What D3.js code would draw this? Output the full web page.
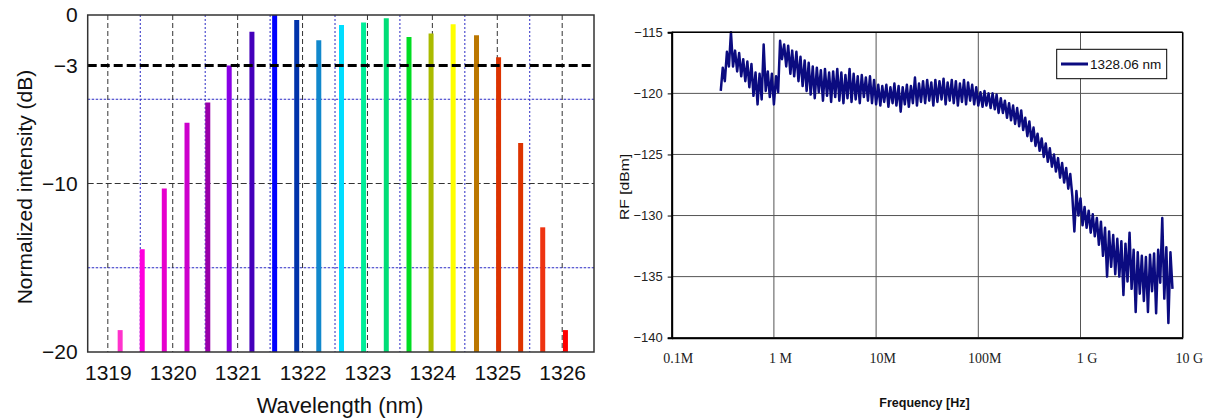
<!DOCTYPE html>
<html>
<head>
<meta charset="utf-8">
<script src="https://cdn.jsdelivr.net/npm/d3@7"></script>
<style>
body { margin: 0; background: #fff; }
svg { display: block; }
</style>
</head>
<body>
<svg width="1205" height="418"></svg>
<script>
// ---- left chart data: laser peaks ----
const wavelengths = [1319.19, 1319.53, 1319.87, 1320.22, 1320.54, 1320.87, 1321.22, 1321.57, 1321.91, 1322.25, 1322.60,
    1322.94, 1323.29, 1323.64, 1323.98, 1324.32, 1324.68, 1325.02, 1325.36, 1325.70, 1326.05];
const peaks = [-18.7, -13.9, -10.3, -6.4, -5.2, -3.0, -1.0, 0, -0.3, -1.5, -0.6,
    -0.45, -0.2, -1.3, -1.1, -0.55, -1.2, -2.5, -7.6, -12.6, -18.7];
const peakColors = ["#ff33cc", "#ff00dd", "#e600cc", "#cc00cc", "#9900aa", "#8800e6", "#4400bb", "#0000ff", "#0033aa", "#1188cc", "#00ddff",
    "#00ee99", "#00dd77", "#00dd22", "#aabb00", "#ffff00", "#bb7700", "#dd3300", "#dd3300", "#ee3311", "#ff0000"];
const nmTicks = [1319, 1320, 1321, 1322, 1323, 1324, 1325, 1326];
const halfTicks = [1319.5, 1320.5, 1321.5, 1322.5, 1323.5, 1324.5, 1325.5];
const dbTicks = [0, -3, -10, -20];
const blueRows = [-5, -15];

// ---- right chart data: RF response ----
const freqMHz = [0.302, 0.316, 0.331, 0.347, 0.363, 0.380, 0.398, 0.417, 0.437, 0.457, 0.479, 0.501, 0.525, 0.550, 0.575, 0.603,
    0.631, 0.661, 0.692, 0.724, 0.759, 0.794, 0.832, 0.871, 0.912, 0.955,
    1.00, 1.05, 1.10, 1.15, 1.20, 1.26, 1.32, 1.38, 1.45, 1.51, 1.58, 1.66, 1.74, 1.82, 1.91, 2.00, 2.09, 2.19, 2.29, 2.40,
    2.51, 2.63, 2.75, 2.88, 3.02, 3.16, 3.31, 3.47, 3.63, 3.80, 3.98, 4.17, 4.37, 4.57, 4.79, 5.01, 5.25, 5.50, 5.75, 6.03,
    6.31, 6.61, 6.92, 7.24, 7.59, 7.94, 8.32, 8.71, 9.12, 9.55,
    10.0, 10.5, 11.0, 11.5, 12.0, 12.6, 13.2, 13.8, 14.5, 15.1, 15.8, 16.6, 17.4, 18.2, 19.1, 20.0, 20.9, 21.9, 22.9, 24.0,
    25.1, 26.3, 27.5, 28.8, 30.2, 31.6, 33.1, 34.7, 36.3, 38.0, 39.8, 41.7, 43.7, 45.7, 47.9, 50.1, 52.5, 55.0, 57.5, 60.3,
    63.1, 66.1, 69.2, 72.4, 75.9, 79.4, 83.2, 87.1, 91.2, 95.5,
    100, 105, 110, 115, 120, 126, 132, 138, 145, 151, 158, 166, 174, 182, 191, 200, 209, 219, 229, 240,
    251, 263, 275, 288, 302, 316, 331, 347, 363, 380, 398, 417, 437, 457, 479, 501, 525, 550, 575, 603,
    631, 661, 692, 724, 759, 794, 832, 871, 912, 955,
    1000, 1047, 1096, 1148, 1202, 1259, 1318, 1380, 1445, 1514, 1585, 1660, 1738, 1820, 1905, 1995, 2089, 2188, 2291, 2399,
    2512, 2630, 2754, 2884, 3020, 3162, 3311, 3467, 3631, 3802, 3981, 4169, 4365, 4571, 4786, 5012, 5248, 5495, 5754, 6026,
    6310, 6607, 6918, 7244, 7586, 7943];
const rfDbm = [-119.8, -117.9, -119.0, -116.6, -117.8, -115.0, -117.8, -116.5, -118.2, -116.7,
    -118.6, -117.2, -119.0, -117.4, -119.5, -117.6, -120.2, -118.3, -120.9, -118.4,
    -120.5, -116.0, -119.8, -118.2, -120.3, -118.4, -120.9, -118.6, -119.9, -115.7,
    -117.2, -116.0, -117.8, -116.1, -118.4, -116.5, -118.6, -116.6, -119.0, -117.0,
    -119.4, -117.3, -119.8, -117.5, -120.1, -117.8, -120.4, -117.9, -119.9, -118.1,
    -120.6, -118.0, -120.2, -118.3, -120.7, -118.2, -120.3, -118.0, -120.6, -118.3,
    -120.8, -118.5, -120.4, -118.0, -120.7, -118.4, -120.5, -118.6, -120.8, -118.5,
    -120.3, -118.7, -120.6, -118.6, -120.8, -118.9, -120.9, -119.3, -121.0, -119.4,
    -120.7, -119.3, -121.1, -119.5, -120.8, -119.2, -121.0, -119.4, -121.5, -119.5,
    -120.9, -119.3, -121.1, -119.4, -120.8, -118.7, -121.0, -119.2, -120.7, -119.0,
    -120.8, -118.9, -120.6, -119.1, -121.0, -118.9, -120.7, -119.0, -120.5, -118.8,
    -120.9, -119.1, -120.6, -118.9, -120.8, -119.0, -121.0, -119.2, -120.7, -118.9,
    -120.9, -119.1, -120.6, -119.3, -120.9, -119.5, -121.0, -119.9, -121.1, -119.8,
    -121.0, -120.0, -121.2, -120.0, -121.3, -120.1, -121.6, -120.4, -121.6, -120.6,
    -122.0, -120.8, -122.2, -121.0, -122.5, -121.2, -122.7, -121.4, -123.0, -122.0,
    -123.5, -122.3, -123.9, -122.8, -124.3, -123.3, -124.7, -123.7, -125.2, -124.1,
    -125.6, -124.5, -126.0, -125.0, -126.4, -125.3, -126.9, -125.7, -127.3, -126.1,
    -127.8, -126.6, -128.4, -131.3, -128.0, -130.0, -128.6, -130.8, -129.3, -131.0,
    -129.6, -131.4, -129.9, -131.7, -130.2, -132.4, -130.5, -133.3, -131.0, -135.0,
    -131.3, -134.2, -131.6, -134.8, -131.9, -135.0, -132.1, -136.5, -132.3, -135.4,
    -131.4, -136.0, -132.8, -137.9, -133.0, -136.4, -133.3, -137.0, -133.4, -137.9,
    -133.2, -136.2, -133.1, -138.0, -132.8, -135.5, -130.2, -136.8, -132.6, -138.8,
    -133.0, -136.0];
const freqTicks = [1e5, 1e6, 1e7, 1e8, 1e9, 1e10];
const freqLabels = ["0.1M", "1 M", "10M", "100M", "1 G", "10 G"];
const rfTicks = [-115, -120, -125, -130, -135, -140];

var svg = d3.select("svg");

// ================= left chart =================
var x1 = d3.scaleLinear().domain([1318.69, 1326.49]).range([87.7, 594]);
var y1 = d3.scaleLinear().domain([-20, 0]).range([352, 15]);
var g1 = svg.append("g");
var L = x1.range()[0], R = x1.range()[1], T = y1(0), B = y1(-20);

// blue dotted grid
g1.selectAll(".hblue").data(blueRows).enter().append("line")
    .attr("x1", L).attr("x2", R)
    .attr("y1", d => y1(d)).attr("y2", d => y1(d))
    .attr("stroke", "#2a2ac4").attr("stroke-width", 1).attr("stroke-dasharray", "2.5,1.5");
g1.selectAll(".vblue").data(halfTicks).enter().append("line")
    .attr("x1", d => x1(d)).attr("x2", d => x1(d))
    .attr("y1", T).attr("y2", B)
    .attr("stroke", "#2a2ac4").attr("stroke-width", 1).attr("stroke-dasharray", "2,2");

// black dashed grid
g1.selectAll(".vblack").data(nmTicks).enter().append("line")
    .attr("x1", d => x1(d)).attr("x2", d => x1(d))
    .attr("y1", T).attr("y2", B)
    .attr("stroke", "#333").attr("stroke-width", 1).attr("stroke-dasharray", "5,3");
g1.append("line")
    .attr("x1", L).attr("x2", R).attr("y1", y1(-10)).attr("y2", y1(-10))
    .attr("stroke", "#333").attr("stroke-width", 1).attr("stroke-dasharray", "6,3");

// peaks
g1.selectAll(".peak").data(wavelengths).enter().append("line")
    .attr("x1", d => x1(d)).attr("x2", d => x1(d))
    .attr("y1", B).attr("y2", (d, i) => y1(peaks[i]))
    .attr("stroke", (d, i) => peakColors[i])
    .attr("stroke-width", 5);

// -3 dB line
g1.append("line")
    .attr("x1", L).attr("x2", R).attr("y1", y1(-3)).attr("y2", y1(-3))
    .attr("stroke", "#000").attr("stroke-width", 3).attr("stroke-dasharray", "9,4");

// frame
g1.append("rect")
    .attr("x", L).attr("y", T).attr("width", R - L).attr("height", B - T)
    .attr("fill", "none").attr("stroke", "#333").attr("stroke-width", 1.5);

// axes
var ax1 = g1.append("g").attr("transform", "translate(0," + B + ")")
    .call(d3.axisBottom(x1).tickValues(nmTicks).tickSize(0).tickPadding(13).tickFormat(d3.format("d")));
var ay1 = g1.append("g").attr("transform", "translate(" + L + ",0)")
    .call(d3.axisLeft(y1).tickValues(dbTicks).tickSize(0).tickPadding(10).tickFormat(d3.format("d")));
[ax1, ay1].forEach(a => {
    a.select(".domain").remove();
    a.selectAll("text").attr("fill", "#111")
        .style("font-family", "'Liberation Sans', Arial, sans-serif").style("font-size", "21px");
});

g1.append("text")
    .attr("x", 340).attr("y", 413).attr("text-anchor", "middle")
    .style("font-family", "'Liberation Sans', Arial, sans-serif").style("font-size", "22px").attr("fill", "#111")
    .text("Wavelength (nm)");
g1.append("text")
    .attr("transform", "translate(32,187) rotate(-90)").attr("text-anchor", "middle")
    .style("font-family", "'Liberation Sans', Arial, sans-serif").style("font-size", "21px").attr("fill", "#111")
    .text("Normalized intensity (dB)");

// ================= right chart =================
var x2 = d3.scaleLog().domain([1e5, 1e10]).range([671.7, 1182.7]);
var y2 = d3.scaleLinear().domain([-140, -115]).range([337.7, 32.3]);
var g2 = svg.append("g");
var L2 = x2.range()[0], R2 = x2.range()[1], T2 = y2(-115), B2 = y2(-140);

// grid
g2.selectAll(".vg").data(freqTicks).enter().append("line")
    .attr("x1", d => x2(d)).attr("x2", d => x2(d)).attr("y1", T2).attr("y2", B2)
    .attr("stroke", "#555").attr("stroke-width", 1);
g2.selectAll(".hg").data(rfTicks).enter().append("line")
    .attr("x1", L2).attr("x2", R2).attr("y1", d => y2(d)).attr("y2", d => y2(d))
    .attr("stroke", "#555").attr("stroke-width", 1);

// trace
var line = d3.line()
    .x((d, i) => x2(freqMHz[i] * 1e6))
    .y(d => y2(d));
g2.append("path")
    .datum(rfDbm)
    .attr("d", line)
    .attr("fill", "none")
    .attr("stroke", "#0b0b80")
    .attr("stroke-width", 2.5)
    .attr("stroke-linejoin", "round");

// frame
g2.append("line").attr("x1", L2).attr("x2", R2).attr("y1", T2).attr("y2", T2).attr("stroke", "#000").attr("stroke-width", 1.5);
g2.append("line").attr("x1", R2).attr("x2", R2).attr("y1", T2).attr("y2", B2).attr("stroke", "#000").attr("stroke-width", 1.5);

var ay2 = g2.append("g").attr("transform", "translate(" + L2 + ",0)")
    .call(d3.axisLeft(y2).tickValues(rfTicks).tickSize(4).tickPadding(5));
ay2.select(".domain").attr("stroke", "#000").attr("stroke-width", 2);
ay2.selectAll("text").attr("fill", "#222")
    .style("font-family", "'Liberation Sans Narrow', 'Liberation Sans', Arial, sans-serif").style("font-size", "13px");

var ax2 = g2.append("g").attr("transform", "translate(0," + B2 + ")")
    .call(d3.axisBottom(x2).tickValues(freqTicks).tickSize(0).tickPadding(15)
        .tickFormat((d, i) => freqLabels[i]));
ax2.select(".domain").attr("stroke", "#000").attr("stroke-width", 2);
ax2.selectAll("text").attr("fill", "#222").attr("x", 6)
    .style("font-family", "'Liberation Serif', 'Times New Roman', serif").style("font-size", "14px");

g2.append("text")
    .attr("x", 924.5).attr("y", 407).attr("text-anchor", "middle")
    .style("font-family", "'Liberation Sans', Arial, sans-serif").style("font-size", "12.5px").style("font-weight", "bold")
    .attr("fill", "#111").text("Frequency [Hz]");
g2.append("text")
    .attr("transform", "translate(629,187) rotate(-90)").attr("text-anchor", "middle")
    .attr("textLength", 66).attr("lengthAdjust", "spacingAndGlyphs")
    .style("font-family", "'Liberation Sans', Arial, sans-serif").style("font-size", "13px")
    .attr("fill", "#111").text("RF [dBm]");

// legend
var lg = g2.append("g");
lg.append("rect").attr("x", 1056.7).attr("y", 49.3).attr("width", 110).attr("height", 29.4)
    .attr("fill", "#fff").attr("stroke", "#000").attr("stroke-width", 1);
lg.append("line").attr("x1", 1061).attr("x2", 1088).attr("y1", 64).attr("y2", 64)
    .attr("stroke", "#0b0b80").attr("stroke-width", 3);
lg.append("text").attr("x", 1090).attr("y", 68.5)
    .style("font-family", "'Liberation Sans Narrow', 'Liberation Sans', Arial, sans-serif").style("font-size", "13.5px")
    .attr("fill", "#111").text("1328.06 nm");
</script>
</body>
</html>
